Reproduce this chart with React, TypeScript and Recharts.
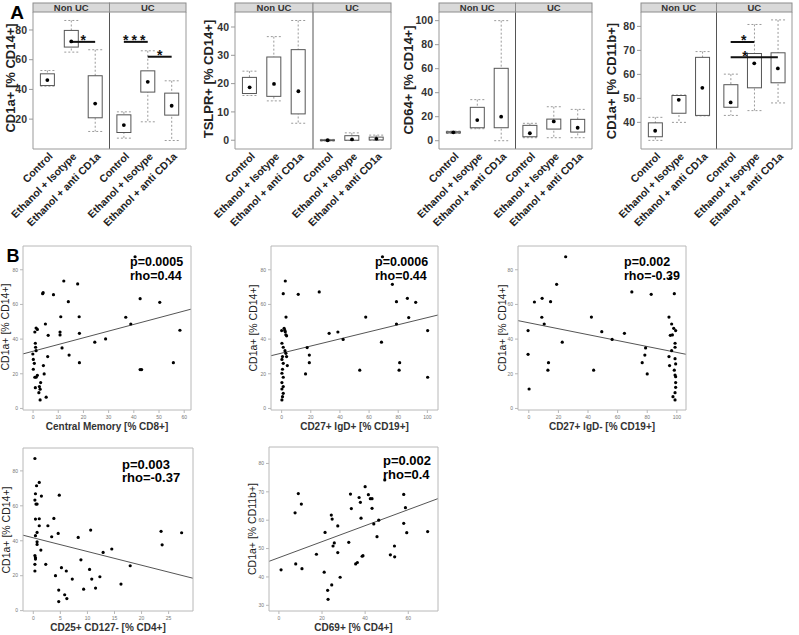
import React from "react";
import { ComposedChart, Bar, Scatter, XAxis, YAxis, ReferenceLine, ReferenceDot } from "recharts";

const FONT = "Arial, 'Liberation Sans', Helvetica, sans-serif";

// ---------------- Panel A data ----------------
const groups = ["Non UC", "UC"];
const categories = ["Control", "Ethanol + Isotype", "Ethanol + anti CD1a"];

// each row: [min, q1, q3, max, mean]  (Non UC x3, then UC x3)
const cd1aCd14Stats = [
  [42.2, 42.6, 50.5, 52.7, 46.3],
  [65.1, 68.5, 79.7, 86.4, 72.3],
  [11.7, 20.9, 49.2, 66.7, 30.5],
  [7.2, 11.0, 22.9, 24.9, 16.0],
  [18.2, 38.2, 52.5, 66.0, 45.1],
  [5.6, 22.7, 37.5, 45.8, 29.0],
];
const tslprStats = [
  [15.8, 16.5, 22.2, 24.4, 18.7],
  [13.9, 15.5, 29.4, 36.6, 19.9],
  [6.0, 9.3, 32.0, 42.3, 17.3],
  [-0.3, -0.15, 0.15, 0.3, 0.0],
  [-0.1, 0.0, 1.6, 2.6, 0.3],
  [0.0, 0.1, 1.1, 1.8, 0.5],
];
const cd64Stats = [
  [6.0, 6.5, 7.5, 8.0, 7.0],
  [10.0, 10.8, 27.8, 34.2, 17.2],
  [0.0, 10.8, 60.3, 100.0, 20.0],
  [2.5, 3.3, 12.8, 14.5, 6.2],
  [2.5, 9.7, 18.0, 28.3, 16.1],
  [2.5, 7.2, 17.8, 26.1, 10.8],
];
const cd1aCd11bStats = [
  [32.5, 34.0, 39.8, 42.1, 36.5],
  [40.0, 43.8, 51.2, 51.4, 49.4],
  [42.7, 42.9, 67.1, 69.5, 54.4],
  [42.9, 46.3, 55.7, 60.1, 48.3],
  [44.9, 54.4, 68.7, 80.8, 64.6],
  [48.1, 56.5, 69.0, 82.7, 62.5],
];

const cd1aCd14Ticks = [20, 40, 60, 80];
const tslprTicks = [0, 10, 20, 30, 40];
const cd64Ticks = [0, 20, 40, 60, 80, 100];
const cd1aCd11bTicks = [40, 50, 60, 70, 80];

// significance bars: [group, category] endpoints, value level, star location, label
const cd1aCd14Sig = [
  { from: [0, 1], to: [0, 2], y: 72, star: [0, 1.5], label: "*" },
  { from: [1, 0], to: [1, 1], y: 72, star: [1, 0.5], label: "***" },
  { from: [1, 1], to: [1, 2], y: 62, star: [1, 1.5], label: "*" },
];
const cd1aCd11bSig = [
  { from: [1, 0], to: [1, 1], y: 73.5, star: [1, 0.55], label: "*" },
  { from: [1, 0], to: [1, 2], y: 67.1, star: [1, 0.61], label: "*" },
];

// ---------------- Panel B data ----------------
const centralMemoryPts = [
  [3.8, 66.2], [4.0, 66.8], [12.2, 73.5], [17.7, 71.8], [8.1, 65.6], [14.0, 61.6], [42.5, 63.3], [50.3, 61.2],
  [11.0, 52.9], [18.3, 52.9], [36.8, 52.6], [38.8, 48.7], [4.9, 48.7], [1.2, 46.4], [1.7, 45.6], [0.7, 44.1],
  [6.0, 42.2], [10.7, 44.1], [10.7, 42.4], [18.4, 43.3], [28.8, 40.1], [24.5, 38.2], [11.5, 34.9], [0.9, 37.6],
  [1.0, 35.3], [1.2, 33.3], [5.8, 29.9], [14.3, 30.8], [-0.1, 31.4], [0.1, 28.3], [0.5, 26.0], [0.1, 22.6],
  [4.1, 24.7], [18.4, 26.4], [55.7, 26.4], [58.3, 45.1], [42.5, 22.4], [43.1, 22.4], [4.4, 19.9], [0.7, 18.0],
  [1.2, 18.0], [1.7, 19.1], [3.0, 14.9], [2.5, 12.6], [0.9, 12.0], [2.3, 9.1], [2.8, 11.1], [5.2, 6.5],
  [2.8, 4.9], [40.5, 87.5],
];
const igdPosPts = [
  [2.5, 73.5], [1.1, 66.2], [11.4, 65.8], [25.8, 67.2], [69.2, 87.5], [76.0, 71.6], [78.8, 61.6], [86.3, 63.5],
  [92.0, 61.2], [3.0, 52.7], [57.7, 52.7], [87.2, 52.4], [78.8, 48.7], [1.7, 46.2], [2.2, 45.0], [2.5, 44.2],
  [2.9, 42.5], [3.4, 41.9], [0.0, 44.9], [32.6, 43.3], [38.6, 44.1], [42.2, 39.8], [68.5, 38.2], [100.2, 44.9],
  [0.2, 37.6], [1.1, 35.3], [2.3, 33.3], [2.9, 31.8], [0.6, 29.9], [3.4, 29.9], [0.2, 28.3], [3.9, 24.7],
  [1.1, 26.0], [0.6, 22.6], [0.2, 20.3], [1.1, 18.0], [0.2, 14.9], [1.1, 12.6], [0.2, 11.2], [1.1, 8.7],
  [0.6, 6.8], [0.2, 4.9], [17.5, 35.1], [19.0, 30.8], [19.0, 26.4], [16.4, 19.9], [53.6, 22.1], [81.0, 26.4],
  [80.6, 22.1], [100.2, 18.0],
];
const igdNegPts = [
  [24.9, 87.5], [18.8, 71.6], [3.8, 61.4], [9.0, 63.5], [14.7, 61.6], [8.8, 52.6], [10.4, 48.7], [22.6, 38.2],
  [42.3, 52.7], [49.3, 44.3], [56.3, 39.8], [64.6, 43.3], [69.6, 67.2], [82.7, 65.8], [78.9, 34.9], [78.4, 30.8],
  [76.6, 26.4], [80.0, 19.9], [43.8, 22.1], [13.3, 26.4], [12.9, 22.1], [98.3, 66.2], [95.6, 75.0], [-0.5, 44.9],
  [-0.5, 31.2], [0.2, 11.2], [94.7, 52.7], [96.5, 48.7], [97.9, 46.2], [99.2, 44.9], [95.6, 42.2], [97.0, 42.4],
  [98.8, 37.6], [98.8, 35.3], [96.5, 33.3], [94.7, 29.9], [98.8, 28.7], [95.1, 24.7], [99.2, 25.7], [98.3, 22.1],
  [98.8, 19.3], [99.2, 18.3], [99.2, 14.9], [99.2, 12.2], [98.8, 9.1], [97.4, 6.8], [98.8, 4.9],
];
const tregPts = [
  [0.3, 87.1], [1.1, 73.4], [0.6, 71.5], [0.4, 66.9], [1.5, 65.6], [4.8, 66.1], [0.3, 63.3], [0.5, 61.0],
  [0.7, 61.0], [0.4, 52.4], [1.1, 52.6], [3.8, 52.8], [1.1, 48.6], [2.7, 48.6], [0.7, 44.8], [0.4, 42.9],
  [4.6, 44.2], [3.4, 42.3], [0.7, 39.4], [0.7, 37.9], [1.4, 34.7], [0.3, 31.5], [0.4, 30.3], [0.4, 29.5],
  [0.3, 26.5], [2.3, 26.5], [0.3, 22.7], [5.2, 24.6], [6.1, 22.7], [4.1, 20.0], [7.2, 18.1], [8.8, 29.1],
  [8.3, 41.9], [10.6, 46.1], [10.4, 23.6], [10.8, 18.1], [12.3, 19.4], [12.9, 33.3], [14.5, 35.3], [17.9, 25.7],
  [16.2, 15.2], [11.5, 12.9], [9.3, 12.3], [4.7, 11.8], [5.8, 9.1], [6.2, 6.9], [4.7, 5.2], [23.6, 45.4],
  [23.8, 37.7], [27.4, 44.6],
];
const cd69Pts = [
  [9.0, 69.4], [10.4, 65.7], [7.5, 62.6], [7.8, 44.6], [10.7, 42.9], [1.0, 42.5], [17.4, 48.0], [21.4, 55.7],
  [21.0, 41.7], [24.3, 61.8], [24.7, 60.4], [27.3, 58.0], [25.7, 52.0], [25.1, 50.9], [27.3, 48.6], [28.4, 39.9],
  [22.6, 35.3], [24.5, 37.2], [22.8, 32.1], [32.4, 52.2], [33.2, 69.2], [33.6, 64.1], [37.2, 68.0], [37.8, 66.3],
  [40.0, 71.8], [41.5, 69.0], [42.4, 67.6], [43.2, 67.6], [43.2, 64.2], [38.1, 60.7], [44.0, 58.7], [46.3, 60.0],
  [45.5, 54.2], [49.1, 74.2], [35.6, 44.6], [36.4, 45.1], [38.6, 47.3], [39.0, 47.5], [51.7, 47.8], [53.7, 47.1],
  [53.6, 50.9], [57.9, 69.1], [58.7, 64.4], [57.9, 58.9], [59.3, 55.6], [69.0, 56.0],
];

// regression fits: [intercept, slope]
const centralMemoryFit = [33.0, 0.387];
const igdPosFit = [31.9, 0.205];
const igdNegFit = [49.4, -0.171];
const tregFit = [41.7, -0.785];
const cd69Fit = [46.8, 0.282];

const centralMemoryStats = ["p=0.0005", "rho=0.44"];
const igdPosStats = ["p=0.0006", "rho=0.44"];
const igdNegStats = ["p=0.002", "rho=-0.39"];
const tregStats = ["p=0.003", "rho=-0.37"];
const cd69Stats = ["p=0.002", "rho=0.4"];

// ---------------- helpers ----------------
const SLOT_GAP = 3.2;
const slotOf = (g: number, c: number) => g * SLOT_GAP + c;
const X_DOMAIN = [-0.6, 5.8];
const SLOTS = groups.flatMap((_, g) => categories.map((_, c) => slotOf(g, c)));
const DIVIDER = SLOT_GAP - 0.6;

const BoxShape = (props: any) => {
  const { x, y, width, height, payload } = props;
  if (x == null || y == null) return <g />;
  const top = Math.min(y, y + height);
  const h = Math.abs(height);
  const { min, max, q1, q3 } = payload;
  const span = max - min || 1;
  const py = (v: number) => top + (h * (max - v)) / span;
  const cx = x + width / 2;
  const wStroke = "#9a9a9a";
  return (
    <g>
      <line x1={cx} x2={cx} y1={py(max)} y2={py(min)} stroke={wStroke} strokeDasharray="2 2" />
      <line x1={x} x2={x + width} y1={py(max)} y2={py(max)} stroke={wStroke} strokeDasharray="2 2" />
      <line x1={x} x2={x + width} y1={py(min)} y2={py(min)} stroke={wStroke} strokeDasharray="2 2" />
      <rect x={x} y={py(q3)} width={width} height={Math.max(py(q1) - py(q3), 0.8)} fill="#fff" stroke="#555" />
    </g>
  );
};

const MeanDot = (p: any) => <circle cx={p.cx} cy={p.cy} r={1.9} fill="#000" />;
const PointDot = (p: any) => <circle cx={p.cx} cy={p.cy} r={1.6} fill="#000" />;

const CatTick = (props: any) => {
  const { x, y, payload } = props;
  const i = SLOTS.findIndex((s) => Math.abs(s - payload.value) < 1e-6);
  const label = categories[(i < 0 ? 0 : i) % 3];
  const ex = x + 6;
  const ey = y + 8;
  return (
    <text x={ex} y={ey} textAnchor="end" transform={`rotate(-45 ${ex} ${ey})`} fontSize={10.5} fontWeight="bold" fill="#222" fontFamily={FONT}>
      {label}
    </text>
  );
};

type BoxPanelProps = {
  left: number; width: number; plotLeft: number; plotRight: number;
  stats: number[][]; yDomain: number[]; yTicks: number[]; sig: any[];
  title: string; titleX: number; titleY: number;
};

const PLOT_TOP = 12;
const PLOT_BOTTOM = 149;
const BOX_H = 240;

function BoxPanel(p: BoxPanelProps) {
  const rows = p.stats.map((s, i) => ({
    x: slotOf(Math.floor(i / 3), i % 3),
    range: [s[0], s[3]],
    min: s[0], q1: s[1], q3: s[2], max: s[3], mean: s[4],
  }));
  return (
    <div style={{ position: "absolute", left: p.left, top: 0 }}>
      <ComposedChart width={p.width} height={BOX_H} data={rows} margin={{ top: PLOT_TOP, right: 0, bottom: 0, left: 0 }}>
        <XAxis type="number" dataKey="x" domain={X_DOMAIN} allowDataOverflow ticks={SLOTS} interval={0}
          tickLine={false} tickSize={0} tickMargin={0} tick={<CatTick />} height={BOX_H - PLOT_BOTTOM} stroke="#999" />
        <YAxis yAxisId="l" type="number" domain={p.yDomain} allowDataOverflow ticks={p.yTicks} interval={0}
          width={p.plotLeft - p.left} tickSize={4} tickMargin={2}
          tick={{ fontSize: 10.5, fontWeight: "bold", fill: "#333", fontFamily: FONT }} stroke="#999" />
        <YAxis yAxisId="r" orientation="right" type="number" domain={p.yDomain} allowDataOverflow ticks={p.yTicks}
          interval={0} width={p.left + p.width - p.plotRight} tickSize={3} tick={false} stroke="#999" />
        <ReferenceLine yAxisId="l" x={DIVIDER} stroke="#555" />
        <Bar yAxisId="l" dataKey="range" barSize={14} shape={BoxShape} isAnimationActive={false} />
        <Scatter yAxisId="l" dataKey="mean" shape={MeanDot} isAnimationActive={false} />
        {p.sig.map((s, i) => (
          <ReferenceLine key={"s" + i} yAxisId="l" ifOverflow="visible"
            segment={[{ x: slotOf(s.from[0], s.from[1]), y: s.y }, { x: slotOf(s.to[0], s.to[1]), y: s.y }]}
            stroke="#111" strokeWidth={2} />
        ))}
        {p.sig.map((s, i) => (
          <ReferenceDot key={"d" + i} yAxisId="l" x={slotOf(s.star[0], s.star[1])} y={s.y} r={1} ifOverflow="visible"
            shape={(q: any) => (
              <text x={q.cx} y={q.cy + 3.5} textAnchor="middle" fontSize={14} fontWeight="bold" fill="#111"
                fontFamily={FONT} letterSpacing={s.label.length > 1 ? 3 : 0}>
                {s.label}
              </text>
            )} />
        ))}
      </ComposedChart>
    </div>
  );
}

type ScatterPanelProps = {
  left: number; top: number; width: number; height: number;
  leftW: number; rightW: number; topH: number; bottomH: number;
  xDomain: number[]; yDomain: number[]; xTicks: number[]; yTicks: number[];
  points: number[][]; fit: number[];
};

function ScatterPanel(p: ScatterPanelProps) {
  const rows = p.points.map(([x, y]) => ({ x, y }));
  const seg = [
    { x: p.xDomain[0], y: p.fit[0] + p.fit[1] * p.xDomain[0] },
    { x: p.xDomain[1], y: p.fit[0] + p.fit[1] * p.xDomain[1] },
  ];
  const axisStroke = "#b8b8b8";
  return (
    <div style={{ position: "absolute", left: p.left, top: p.top }}>
      <ComposedChart width={p.width} height={p.height} data={rows} margin={{ top: 0, right: 0, bottom: 0, left: 0 }}>
        <XAxis xAxisId="b" type="number" dataKey="x" domain={p.xDomain} allowDataOverflow ticks={p.xTicks} interval={0}
          height={p.bottomH} tickSize={3} tickMargin={2} tick={{ fontSize: 5, fill: "#777", fontFamily: FONT }} stroke={axisStroke} />
        <XAxis xAxisId="t" orientation="top" type="number" dataKey="x" domain={p.xDomain} allowDataOverflow ticks={p.xTicks}
          interval={0} height={p.topH} tickSize={3} tick={false} stroke={axisStroke} />
        <YAxis yAxisId="l" type="number" domain={p.yDomain} allowDataOverflow ticks={p.yTicks} interval={0}
          width={p.leftW} tickSize={3} tickMargin={2} tick={{ fontSize: 5, fill: "#777", fontFamily: FONT }} stroke={axisStroke} />
        <YAxis yAxisId="r" orientation="right" type="number" domain={p.yDomain} allowDataOverflow ticks={p.yTicks}
          interval={0} width={p.rightW} tickSize={3} tick={false} stroke={axisStroke} />
        <ReferenceLine xAxisId="b" yAxisId="l" segment={seg} stroke="#555" strokeWidth={1} ifOverflow="hidden" />
        <Scatter xAxisId="b" yAxisId="l" dataKey="y" shape={PointDot} isAnimationActive={false} />
      </ComposedChart>
    </div>
  );
}

const boxPanels = [
  { left: 0, width: 200, plotLeft: 33, plotRight: 186, stats: cd1aCd14Stats, yDomain: [-0.1, 92.1], yTicks: cd1aCd14Ticks, sig: cd1aCd14Sig, title: "CD1a+ [% CD14+]", titleX: 15, titleY: 78 },
  { left: 200, width: 200, plotLeft: 235, plotRight: 391, stats: tslprStats, yDomain: [-3.1, 45.3], yTicks: tslprTicks, sig: [], title: "TSLPR+ [% CD14+]", titleX: 213, titleY: 79 },
  { left: 400, width: 200, plotLeft: 439, plotRight: 592, stats: cd64Stats, yDomain: [-6.9, 107.2], yTicks: cd64Ticks, sig: [], title: "CD64+ [% CD14+]", titleX: 413, titleY: 80 },
  { left: 600, width: 199, plotLeft: 641, plotRight: 792, stats: cd1aCd11bStats, yDomain: [28.9, 86.0], yTicks: cd1aCd11bTicks, sig: cd1aCd11bSig, title: "CD1a+ [% CD11b+]", titleX: 616, titleY: 81 },
];

const scatterPanels = [
  { left: 0, top: 236, width: 200, height: 200, leftW: 23, rightW: 9, topH: 10, bottomH: 26, xDomain: [-4, 62.7], yDomain: [-0.9, 93.7], xTicks: [0, 10, 20, 30, 40, 50, 60], yTicks: [0, 20, 40, 60, 80], points: centralMemoryPts, fit: centralMemoryFit, xTitle: "Central Memory [% CD8+]", yTitle: "CD1a+ [% CD14+]", yTitleX: 9, yTitleY: 327, stats: centralMemoryStats, statX: 130, statY: [266, 280], statSize: 12.5 },
  { left: 248, top: 236, width: 200, height: 200, leftW: 23, rightW: 10, topH: 10, bottomH: 26, xDomain: [-7.3, 107.3], yDomain: [-0.9, 93.7], xTicks: [0, 20, 40, 60, 80, 100], yTicks: [0, 20, 40, 60, 80], points: igdPosPts, fit: igdPosFit, xTitle: "CD27+ IgD+ [% CD19+]", yTitle: "CD1a+ [% CD14+]", yTitleX: 257, yTitleY: 328, stats: igdPosStats, statX: 375, statY: [266, 280], statSize: 12.5 },
  { left: 495, top: 236, width: 200, height: 200, leftW: 23, rightW: 9, topH: 10, bottomH: 26, xDomain: [-7.3, 106.2], yDomain: [-0.9, 93.7], xTicks: [0, 20, 40, 60, 80, 100], yTicks: [0, 20, 40, 60, 80], points: igdNegPts, fit: igdNegFit, xTitle: "CD27+ IgD- [% CD19+]", yTitle: "CD1a+ [% CD14+]", yTitleX: 506, yTitleY: 328, stats: igdNegStats, statX: 624, statY: [266, 280], statSize: 12.5 },
  { left: 0, top: 437, width: 202, height: 198, leftW: 23, rightW: 9, topH: 11, bottomH: 24, xDomain: [-1.9, 29.5], yDomain: [-0.2, 93.1], xTicks: [0, 5, 10, 15, 20, 25], yTicks: [0, 20, 40, 60, 80], points: tregPts, fit: tregFit, xTitle: "CD25+ CD127- [% CD4+]", yTitle: "CD1a+ [% CD14+]", yTitleX: 9.5, yTitleY: 530, stats: tregStats, statX: 122, statY: [468.5, 482], statSize: 13 },
  { left: 246, top: 437, width: 202, height: 198, leftW: 23, rightW: 10, topH: 10, bottomH: 24, xDomain: [-4.6, 73.8], yDomain: [28.0, 85.8], xTicks: [0, 20, 40, 60], yTicks: [30, 40, 50, 60, 70, 80], points: cd69Pts, fit: cd69Fit, xTitle: "CD69+ [% CD4+]", yTitle: "CD1a+ [% CD11b+]", yTitleX: 256, yTitleY: 529, stats: cd69Stats, statX: 383, statY: [464.5, 479], statSize: 13 },
];

export default function App() {
  return (
    <div style={{ position: "absolute", left: 0, top: 0, width: 799, height: 635, background: "#fff", overflow: "hidden", fontFamily: FONT }}>
      {boxPanels.map((p, i) => (
        <BoxPanel key={"b" + i} {...p} />
      ))}
      {scatterPanels.map((p, i) => (
        <ScatterPanel key={"s" + i} {...p} />
      ))}
      <svg width={799} height={635} style={{ position: "absolute", left: 0, top: 0, pointerEvents: "none" }} fontFamily={FONT}>
        <text x={17} y={19} textAnchor="middle" fontSize={19} fontWeight="bold" fill="#000">A</text>
        <text x={13} y={262} textAnchor="middle" fontSize={18} fontWeight="bold" fill="#000">B</text>
        {boxPanels.map((p, i) => {
          const divX = p.plotLeft + ((DIVIDER - X_DOMAIN[0]) / (X_DOMAIN[1] - X_DOMAIN[0])) * (p.plotRight - p.plotLeft);
          return (
            <g key={"o" + i}>
              <rect x={p.plotLeft} y={3} width={divX - p.plotLeft} height={PLOT_TOP - 3} fill="#d9d9d9" stroke="#8c8c8c" strokeWidth={1} />
              <rect x={divX} y={3} width={p.plotRight - divX} height={PLOT_TOP - 3} fill="#d9d9d9" stroke="#8c8c8c" strokeWidth={1} />
              <text x={(p.plotLeft + divX) / 2} y={11.2} textAnchor="middle" fontSize={9.5} fontWeight="bold" fill="#333">{groups[0]}</text>
              <text x={(divX + p.plotRight) / 2} y={11.2} textAnchor="middle" fontSize={9.5} fontWeight="bold" fill="#333">{groups[1]}</text>
              <text x={p.titleX} y={p.titleY} textAnchor="middle" transform={`rotate(-90 ${p.titleX} ${p.titleY})`} fontSize={13} fontWeight="bold" fill="#222">{p.title}</text>
            </g>
          );
        })}
        {scatterPanels.map((p, i) => {
          const pl = p.left + p.leftW;
          const pr = p.left + p.width - p.rightW;
          const xTitleY = p.top + p.height - p.bottomH + 20;
          return (
            <g key={"t" + i}>
              <text x={(pl + pr) / 2} y={xTitleY} textAnchor="middle" fontSize={10} fontWeight="bold" fill="#333">{p.xTitle}</text>
              <text x={p.yTitleX} y={p.yTitleY} textAnchor="middle" transform={`rotate(-90 ${p.yTitleX} ${p.yTitleY})`} fontSize={10.5} fill="#222">{p.yTitle}</text>
              <text x={p.statX} y={p.statY[0]} fontSize={p.statSize} fontWeight="bold" fill="#000">{p.stats[0]}</text>
              <text x={p.statX} y={p.statY[1]} fontSize={p.statSize} fontWeight="bold" fill="#000">{p.stats[1]}</text>
            </g>
          );
        })}
      </svg>
    </div>
  );
}
